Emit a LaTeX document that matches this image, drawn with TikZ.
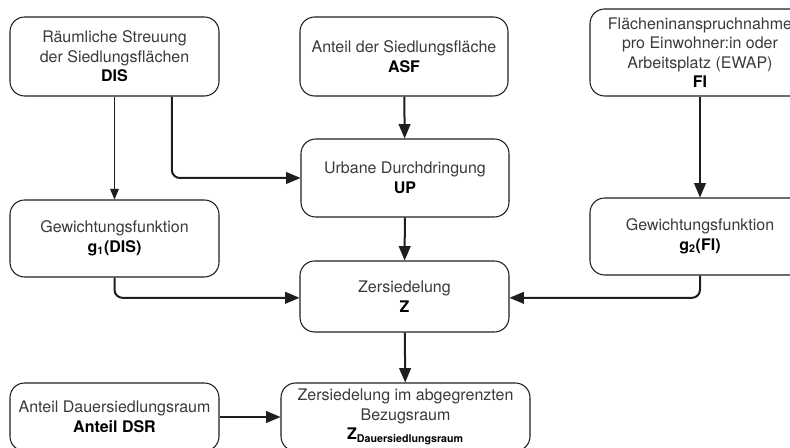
\documentclass[tikz,border=0pt]{standalone}
\usepackage{fontspec}
\setmainfont{TeX Gyre Heros}
\usepackage{tikz}
\usetikzlibrary{arrows}
\definecolor{txtgray}{HTML}{3A3A3A}
\definecolor{linegray}{HTML}{1E1E1E}

\begin{document}
\begin{tikzpicture}[x=0.75pt,y=-0.75pt]
	\tikzset{box/.style={draw=linegray, line width=0.8pt, rounded corners=11pt, align=center, inner sep=2pt, text=txtgray, font=\fontsize{12}{14.6}\selectfont},
		arr/.style={-triangle 45, line width=1.5pt, draw=linegray},
		thinarr/.style={-triangle 45, line width=0.8pt, draw=linegray}}

	\useasboundingbox (0,0) rectangle (790,448);
	\clip (0,0) rectangle (790,448);

	\node[box, minimum width=156.75pt, minimum height=59.25pt] (dis) at (114.5,56.5) {R\"aumliche Streuung\\der Siedlungsfl\"achen\\\textcolor{black}{\textbf{DIS}}};
	\node[box, minimum width=156pt, minimum height=59.25pt] (asf) at (404,56.5) {Anteil der Siedlungsfl\"ache\\\textcolor{black}{\textbf{ASF}}};
	\node[box, minimum width=165pt, minimum height=65.25pt] (fi) at (700,52.5) {Fl\"acheninanspruchnahme\\pro Einwohner:in oder\\Arbeitsplatz (EWAP)\\\textcolor{black}{\textbf{FI}}};
	\node[box, minimum width=156pt, minimum height=58.5pt] (up) at (405,178) {Urbane Durchdringung\\\textcolor{black}{\textbf{UP}}};
	\node[box, minimum width=156.75pt, minimum height=57.75pt] (g1) at (114.5,238.5) {Gewichtungsfunktion\\\textcolor{black}{\textbf{g\textsubscript{1}(DIS)}}};
	\node[box, minimum width=165pt, minimum height=57.75pt] (g2) at (700,236.5) {Gewichtungsfunktion\\\textcolor{black}{\textbf{g\textsubscript{2}(FI)}}};
	\node[box, minimum width=156.75pt, minimum height=53.25pt] (z) at (404.5,296.5) {Zersiedelung\\\textcolor{black}{\textbf{Z}}};
	\node[box, minimum width=156.75pt, minimum height=51pt] (dsr) at (114.5,417) {Anteil Dauersiedlungsraum\\\textcolor{black}{\textbf{Anteil DSR}}};
	\node[box, minimum width=186.75pt, minimum height=51pt] (zbez) at (405.5,417) {Zersiedelung im abgegrenzten\\Bezugsraum\\\textcolor{black}{\textbf{Z\textsubscript{Dauersiedlungsraum}}}};

	\draw[thinarr] (dis) -- (g1);
	\draw[arr, rounded corners=6pt] ([xshift=43pt]dis.south) |- (up.west);
	\draw[arr] (asf) -- (up);
	\draw[arr] (up) -- (z);
	\draw[arr] (fi) -- (g2);
	\draw[arr, rounded corners=6pt] (g1.south) |- ([yshift=-1pt]z.west);
	\draw[arr, rounded corners=6pt] (g2.south) |- ([yshift=-1pt]z.east);
	\draw[arr] (z) -- (zbez);
	\draw[arr] (dsr) -- (zbez);

\end{tikzpicture}
\end{document}
